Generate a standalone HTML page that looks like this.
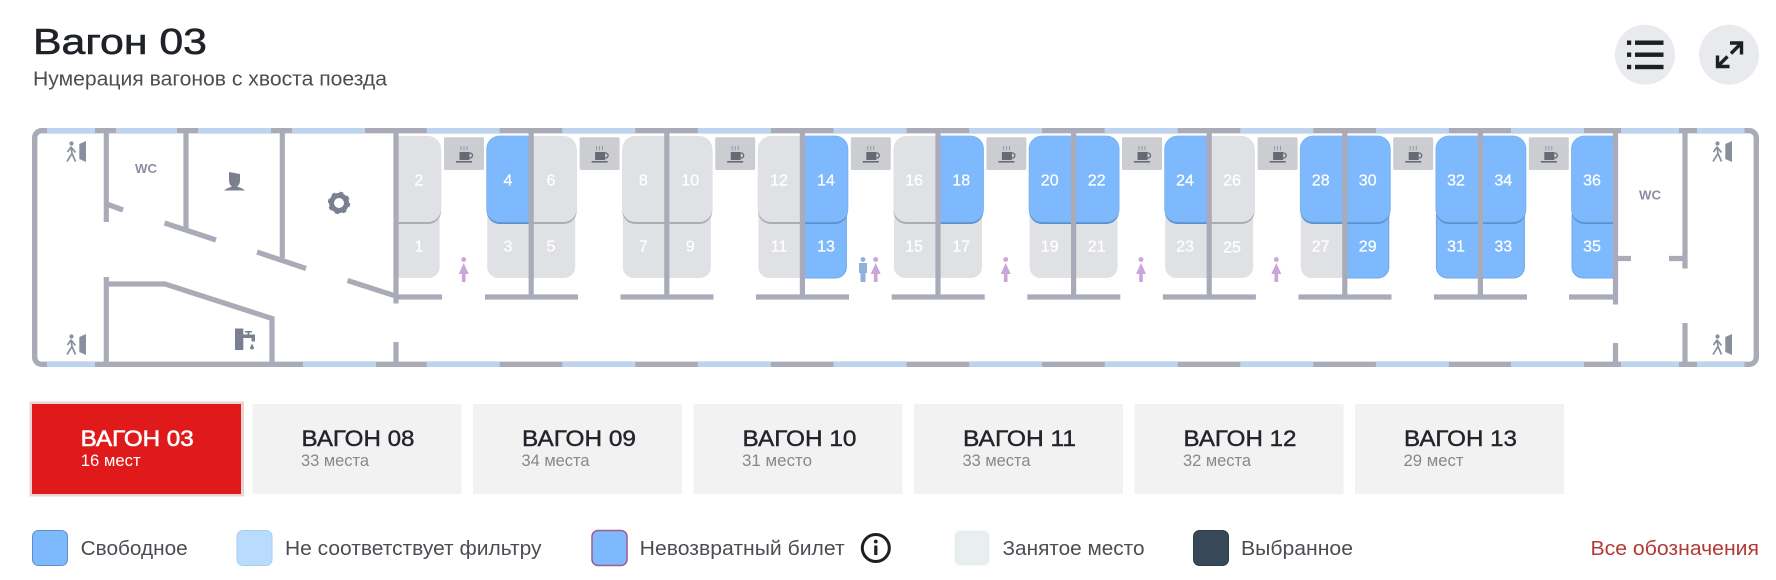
<!DOCTYPE html>
<html lang="ru"><head><meta charset="utf-8"><title>Вагон 03</title>
<style>
html,body{margin:0;padding:0;background:#fff}
svg{display:block}
text{font-family:"Liberation Sans",sans-serif}
.n{font-size:16px;fill:#fff;text-anchor:middle;stroke:#fff;stroke-width:.25}
.t{font-size:22px;fill:#22252b;stroke:#22252b;stroke-width:.4}
.s{font-size:17px;fill:#85888c}
.l{font-size:20px;fill:#4a4d52}
</style></head><body>
<svg width="1776" height="580" viewBox="0 0 1776 580" xmlns="http://www.w3.org/2000/svg">
<defs>
<path id="ul" d="M0,136H-31.5a13,13 0 0 0 -13,13V209a13,13 0 0 0 13,13H0Z"/>
<path id="ur" d="M0,136H32.5a13,13 0 0 1 13,13V209a13,13 0 0 1 -13,13H0Z"/>
<path id="ll" d="M0,215V278H-33a11,11 0 0 1 -11,-11V215Z"/>
<path id="lr" d="M0,215V278H33a11,11 0 0 0 11,-11V215Z"/>
<g id="GUL"><use href="#ul" y="2" fill="#aaadb4"/><use href="#ul" fill="#e0e1e4"/></g>
<g id="GUR"><use href="#ur" y="2" fill="#aaadb4"/><use href="#ur" fill="#e0e1e4"/></g>
<g id="BUL"><use href="#ul" y="2" fill="#5c8fcb"/><use href="#ul" fill="#7db9fc" stroke="#78b0ef" stroke-width=".8"/></g>
<g id="BUR"><use href="#ur" y="2" fill="#5c8fcb"/><use href="#ur" fill="#7db9fc" stroke="#78b0ef" stroke-width=".8"/></g>
<use id="GLL" href="#ll" fill="#e0e1e4"/>
<use id="GLR" href="#lr" fill="#e0e1e4"/>
<use id="BLL" href="#ll" fill="#7db9fc" stroke="#6fa7e6"/>
<use id="BLR" href="#lr" fill="#7db9fc" stroke="#6fa7e6"/>
<g id="cf">
<rect x="0" y="137.3" width="40" height="32.7" rx="1.5" fill="#cbcdd1"/>
<rect x="15.5" y="152" width="10" height="8" fill="#666a75"/>
<circle cx="26" cy="155.5" r="2.5" fill="none" stroke="#666a75" stroke-width="1.3"/>
<rect x="12" y="161" width="16" height="1.6" fill="#666a75"/>
<path d="M17,146v4.5M20,146v4.5M23,146v4.5" stroke="#8a8d96" stroke-width=".8"/>
</g>
<g id="fem" fill="#c9a5d9"><circle cx="0" cy="2.5" r="2.4"/><path d="M0,6L-5,17H-1.8V25H1.8V17H5Z"/></g>
<g id="mal" fill="#8fb1de"><circle cx="0" cy="2.5" r="2.4"/><path d="M-4,6H4V16H2.5V25H-2.5V16H-4Z"/></g>
<g id="ex">
<path d="M13.3,3L20,0V21L13.3,18Z" fill="#8a8f9c"/>
<circle cx="5.5" cy="2.5" r="2.1" fill="#8a8f9c"/>
<path d="M5,5.5L6,12.5L1,20.5M6,12.5L9.5,20.5M5,6L1.5,11M5,6L9.5,11.5" fill="none" stroke="#8a8f9c" stroke-width="1.7"/>
</g>
</defs>

<rect width="1776" height="580" fill="#fff"/>

<!-- header -->
<text x="33" y="54" font-size="36" fill="#1f2228" stroke="#1f2228" stroke-width=".6" textLength="174" lengthAdjust="spacingAndGlyphs">Вагон 03</text>
<text x="33" y="85.5" font-size="20" fill="#4a4d52" textLength="354" lengthAdjust="spacingAndGlyphs">Нумерация вагонов с хвоста поезда</text>
<circle cx="1645" cy="54.7" r="30" fill="#e9eaee"/>
<circle cx="1729" cy="54.7" r="30" fill="#e9eaee"/>
<g fill="#1d1f24">
<rect x="1627" y="40.5" width="4.2" height="4.4"/><rect x="1635" y="40.5" width="28.5" height="4.4"/>
<rect x="1627" y="52.5" width="4.2" height="4.4"/><rect x="1635" y="52.5" width="28.5" height="4.4"/>
<rect x="1627" y="64.8" width="4.2" height="4.4"/><rect x="1635" y="64.8" width="28.5" height="4.4"/>
</g>
<path d="M1730,43H1741.5V54.5M1741.5,43L1731,53.5M1717.5,55.5V66.5H1729.5M1717.5,66.5L1727.5,56.5" fill="none" stroke="#1d1f24" stroke-width="3.4"/>

<!-- seats -->
<use href="#GLR" x="395.6"/><use href="#GUR" x="395.6"/>
<use href="#GLL" x="531.2"/><use href="#GLR" x="531.2"/><use href="#BUL" x="531.2"/><use href="#GUR" x="531.2"/>
<use href="#GLL" x="666.8"/><use href="#GLR" x="666.8"/><use href="#GUL" x="666.8"/><use href="#GUR" x="666.8"/>
<use href="#GLL" x="802.4"/><use href="#BLR" x="802.4"/><use href="#GUL" x="802.4"/><use href="#BUR" x="802.4"/>
<use href="#GLL" x="938"/><use href="#GLR" x="938"/><use href="#GUL" x="938"/><use href="#BUR" x="938"/>
<use href="#GLL" x="1073.6"/><use href="#GLR" x="1073.6"/><use href="#BUL" x="1073.6"/><use href="#BUR" x="1073.6"/>
<use href="#GLL" x="1209.2"/><use href="#GLR" x="1209.2"/><use href="#BUL" x="1209.2"/><use href="#GUR" x="1209.2"/>
<use href="#GLL" x="1344.8"/><use href="#BLR" x="1344.8"/><use href="#BUL" x="1344.8"/><use href="#BUR" x="1344.8"/>
<use href="#BLL" x="1480.4"/><use href="#BLR" x="1480.4"/><use href="#BUL" x="1480.4"/><use href="#BUR" x="1480.4"/>
<use href="#BLL" x="1616"/><use href="#BUL" x="1616"/>

<!-- coffee -->
<use href="#cf" x="444"/><use href="#cf" x="579.6"/><use href="#cf" x="715.2"/><use href="#cf" x="850.8"/><use href="#cf" x="986.4"/><use href="#cf" x="1122"/><use href="#cf" x="1257.6"/><use href="#cf" x="1393.2"/><use href="#cf" x="1528.8"/>

<!-- people -->
<use href="#fem" x="463.7" y="257"/>
<use href="#mal" x="863" y="257"/><use href="#fem" x="875.7" y="257"/>
<use href="#fem" x="1005.7" y="257"/><use href="#fem" x="1141" y="257"/><use href="#fem" x="1276.3" y="257"/>

<!-- outer shell -->
<rect x="34.7" y="130.7" width="1721.6" height="233.6" rx="7" fill="none" stroke="#a9acb8" stroke-width="5.4"/>
<g fill="#bcd4ef">
<rect x="47" y="128" width="48" height="5"/><rect x="116" y="128" width="61" height="5"/><rect x="198" y="128" width="73" height="5"/><rect x="292" y="128" width="73" height="5"/>
<rect x="426.7" y="128" width="73" height="5"/><rect x="562.3" y="128" width="73" height="5"/><rect x="697.9" y="128" width="73" height="5"/><rect x="833.5" y="128" width="73" height="5"/><rect x="969.1" y="128" width="73" height="5"/><rect x="1104.7" y="128" width="73" height="5"/><rect x="1240.3" y="128" width="73" height="5"/><rect x="1375.9" y="128" width="73" height="5"/><rect x="1511" y="128" width="73" height="5"/>
<rect x="1621" y="128" width="58" height="5"/><rect x="1697" y="128" width="47.5" height="5"/>
<rect x="47" y="362" width="48" height="5"/><rect x="303" y="362" width="73" height="5"/>
<rect x="426.7" y="362" width="73" height="5"/><rect x="562.3" y="362" width="73" height="5"/><rect x="697.9" y="362" width="73" height="5"/><rect x="833.5" y="362" width="73" height="5"/><rect x="969.1" y="362" width="73" height="5"/><rect x="1104.7" y="362" width="73" height="5"/><rect x="1240.3" y="362" width="73" height="5"/><rect x="1375.9" y="362" width="73" height="5"/><rect x="1511" y="362" width="73" height="5"/>
<rect x="1621" y="362" width="58" height="5"/><rect x="1697" y="362" width="47.5" height="5"/>
</g>

<!-- walls -->
<g fill="none" stroke="#a9acb8" stroke-width="5.2">
<path d="M106.3,130V222M108,204.5L123,210M186,130V230M164.5,223L216,240M282.3,130V258M257,252L306,268.5M347.5,280.5L394,295.5"/>
<path d="M396,130V303.5M396,342V367"/>
<path d="M106.3,277V367M106,284H165L272,318.5V367"/>
<path d="M396,297H442"/>
<path d="M531.2,130V297M485,297H578M666.8,130V297M620.5,297H713.5M802.4,130V297M756,297H849M938,130V297M891.7,297H984.7M1073.6,130V297M1027.3,297H1120.3M1209.2,130V297M1162.9,297H1255.9M1344.8,130V297M1298.5,297H1391.5M1480.4,130V297M1434,297H1527"/>
<path d="M1569,297H1616M1615.5,130V304.5M1615.5,343V367M1685,130V268.5M1685,323V367M1617,258.5H1631M1669,258.5H1685"/>
</g>

<!-- numbers -->
<text class="n" x="419" y="185.5">2</text><text class="n" x="419" y="251.5">1</text>
<text class="n" x="508" y="185.5">4</text><text class="n" x="508" y="251.5">3</text>
<text class="n" x="551" y="185.5">6</text><text class="n" x="551" y="251.5">5</text>
<text class="n" x="643.3" y="185.5">8</text><text class="n" x="643.3" y="251.5">7</text>
<text class="n" x="690.3" y="185.5">10</text><text class="n" x="690.3" y="251.5">9</text>
<text class="n" x="779" y="185.5">12</text><text class="n" x="779" y="251.5">11</text>
<text class="n" x="826" y="185.5">14</text><text class="n" x="826" y="251.5">13</text>
<text class="n" x="914" y="185.5">16</text><text class="n" x="914" y="251.5">15</text>
<text class="n" x="961.3" y="185.5">18</text><text class="n" x="961.3" y="251.5">17</text>
<text class="n" x="1049.7" y="185.5">20</text><text class="n" x="1049.7" y="251.5">19</text>
<text class="n" x="1096.7" y="185.5">22</text><text class="n" x="1096.7" y="251.5">21</text>
<text class="n" x="1185" y="185.5">24</text><text class="n" x="1185" y="251.5">23</text>
<text class="n" x="1232" y="185.5">26</text><text class="n" x="1232" y="252.5">25</text>
<text class="n" x="1320.7" y="185.5">28</text><text class="n" x="1320.7" y="251.5">27</text>
<text class="n" x="1367.7" y="185.5">30</text><text class="n" x="1367.7" y="251.5">29</text>
<text class="n" x="1456" y="185.5">32</text><text class="n" x="1456" y="251.5">31</text>
<text class="n" x="1503.3" y="185.5">34</text><text class="n" x="1503.3" y="251.5">33</text>
<text class="n" x="1592" y="185.5">36</text><text class="n" x="1592" y="251.5">35</text>

<!-- carriage icons -->
<use href="#ex" x="66" y="141"/><use href="#ex" x="66" y="334"/>
<use href="#ex" x="1712" y="141"/><use href="#ex" x="1712" y="334"/>
<text x="146" y="173" font-size="13" font-weight="bold" fill="#8a8f9f" text-anchor="middle" textLength="22" lengthAdjust="spacingAndGlyphs">WC</text>
<text x="1650" y="199.5" font-size="13" font-weight="bold" fill="#8a8f9f" text-anchor="middle" textLength="22" lengthAdjust="spacingAndGlyphs">WC</text>
<path d="M229,172L240,174V180Q240,185 237,186.5Q242,188 245,190.5H224Q227,188 232,186.5Q229,185 229,180Z" fill="#7b8090"/>
<circle cx="339" cy="203" r="7.5" fill="none" stroke="#7b8090" stroke-width="5"/>
<circle cx="339" cy="203" r="9.7" fill="none" stroke="#7b8090" stroke-width="3" stroke-dasharray="3.81 3.81"/>
<rect x="235" y="328.5" width="8.3" height="21.5" fill="#7b8090"/>
<path d="M243,334.5H255V341.5H251.5V338H243ZM245,331H252V332.5H249.5V334.5H247.5V332.5H245Z" fill="#7b8090"/>
<path d="M252,343.5L254,347.5A2,2 0 1 1 250,347.5Z" fill="#7b8090"/>

<!-- tabs -->
<rect x="29.5" y="401.5" width="214.5" height="95" fill="#eed3d3"/>
<rect x="32" y="404" width="209" height="90" fill="#e01a1a"/>
<rect x="252.5" y="404" width="209" height="90" fill="#f2f2f2"/>
<rect x="473" y="404" width="209" height="90" fill="#f2f2f2"/>
<rect x="693.5" y="404" width="209" height="90" fill="#f2f2f2"/>
<rect x="914" y="404" width="209" height="90" fill="#f2f2f2"/>
<rect x="1134.5" y="404" width="209" height="90" fill="#f2f2f2"/>
<rect x="1355" y="404" width="209" height="90" fill="#f2f2f2"/>
<text class="t" x="80.7" y="446" style="fill:#fff;stroke:#fff;stroke-width:.6" textLength="113" lengthAdjust="spacingAndGlyphs">ВАГОН 03</text>
<text class="s" x="80.7" y="466" style="fill:#fff" textLength="60" lengthAdjust="spacingAndGlyphs">16 мест</text>
<text class="t" x="301.5" y="446" textLength="113" lengthAdjust="spacingAndGlyphs">ВАГОН 08</text>
<text class="s" x="301" y="466" textLength="68" lengthAdjust="spacingAndGlyphs">33 места</text>
<text class="t" x="522" y="446" textLength="114" lengthAdjust="spacingAndGlyphs">ВАГОН 09</text>
<text class="s" x="521.5" y="466" textLength="68" lengthAdjust="spacingAndGlyphs">34 места</text>
<text class="t" x="742.5" y="446" textLength="114" lengthAdjust="spacingAndGlyphs">ВАГОН 10</text>
<text class="s" x="742" y="466" textLength="70" lengthAdjust="spacingAndGlyphs">31 место</text>
<text class="t" x="963" y="446" textLength="113" lengthAdjust="spacingAndGlyphs">ВАГОН 11</text>
<text class="s" x="962.5" y="466" textLength="68" lengthAdjust="spacingAndGlyphs">33 места</text>
<text class="t" x="1183.5" y="446" textLength="113" lengthAdjust="spacingAndGlyphs">ВАГОН 12</text>
<text class="s" x="1183" y="466" textLength="68" lengthAdjust="spacingAndGlyphs">32 места</text>
<text class="t" x="1404" y="446" textLength="113" lengthAdjust="spacingAndGlyphs">ВАГОН 13</text>
<text class="s" x="1403.5" y="466" textLength="60" lengthAdjust="spacingAndGlyphs">29 мест</text>

<!-- legend -->
<rect x="32.5" y="530.5" width="35" height="35" rx="6" fill="#7db9fc" stroke="#5f8fc6"/>
<text class="l" x="80.7" y="555" textLength="107" lengthAdjust="spacingAndGlyphs">Свободное</text>
<rect x="237" y="530.5" width="35" height="35" rx="6" fill="#b9dcfc" stroke="#a6cdf0"/>
<text class="l" x="285" y="555" textLength="256.5" lengthAdjust="spacingAndGlyphs">Не соответствует фильтру</text>
<rect x="592" y="530.5" width="35" height="35" rx="6" fill="#7db9fc" stroke="#a35a8c" stroke-width="1.5"/>
<text class="l" x="639.7" y="555" textLength="205" lengthAdjust="spacingAndGlyphs">Невозвратный билет</text>
<circle cx="875.8" cy="548" r="13.5" fill="none" stroke="#1d1f24" stroke-width="3"/>
<circle cx="875.8" cy="541.5" r="1.9" fill="#1d1f24"/>
<rect x="874.2" y="545.5" width="3.2" height="9.5" fill="#1d1f24"/>
<rect x="954.5" y="530.5" width="35" height="35" rx="6" fill="#e9eef0"/>
<text class="l" x="1002.5" y="555" textLength="142" lengthAdjust="spacingAndGlyphs">Занятое место</text>
<rect x="1193.5" y="530.5" width="35" height="35" rx="6" fill="#374959" stroke="#2d3c49"/>
<text class="l" x="1241" y="555" textLength="112" lengthAdjust="spacingAndGlyphs">Выбранное</text>
<text class="l" x="1590.5" y="555" style="fill:#b23a36" textLength="168.5" lengthAdjust="spacingAndGlyphs">Все обозначения</text>
</svg>
</body></html>
